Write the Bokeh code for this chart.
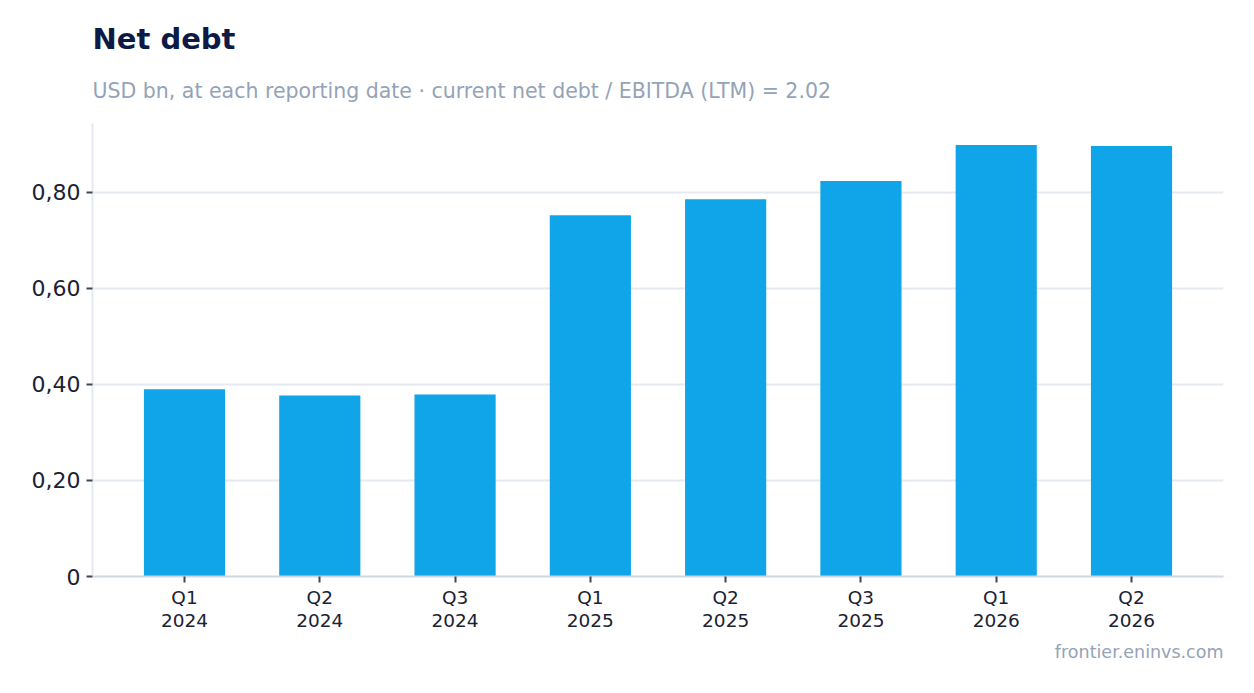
from bokeh.plotting import figure
from bokeh.models import Range1d, FixedTicker, Title, ColumnDataSource
from bokeh.embed import file_html
from bokeh.resources import INLINE

quarters = ["Q1\n2024", "Q2\n2024", "Q3\n2024", "Q1\n2025", "Q2\n2025", "Q3\n2025", "Q1\n2026", "Q2\n2026"]
net_debt = [0.390, 0.377, 0.379, 0.752, 0.785, 0.823, 0.898, 0.896]
y_ticks = [0, 0.2, 0.4, 0.6, 0.8]
y_tick_labels = ["0", "0,20", "0,40", "0,60", "0,80"]

FONT = "DejaVu Sans"
xs = list(range(len(quarters)))
src = ColumnDataSource(dict(x=xs, y=net_debt))

p = figure(width=1246, height=685, output_backend="svg", toolbar_location=None,
           x_range=Range1d(-0.68, len(quarters) - 1 + 0.68),
           y_range=Range1d(0, max(net_debt) * 1.05),
           min_border_left=92, min_border_right=23, min_border_top=123, min_border_bottom=109)
p.outline_line_color = None
p.background_fill_color = "white"
p.border_fill_color = "white"

p.vbar(x="x", top="y", width=0.6, source=src, color="#10a5e8", line_color=None)

p.xgrid.grid_line_color = None
p.ygrid.grid_line_color = "#e5e9f0"
p.ygrid.grid_line_width = 2

p.xaxis.ticker = FixedTicker(ticks=xs)
p.xaxis.major_label_overrides = {i: q for i, q in zip(xs, quarters)}
p.yaxis.ticker = FixedTicker(ticks=y_ticks)
p.yaxis.major_label_overrides = {t: l for t, l in zip(y_ticks, y_tick_labels)}

for ax in (p.xaxis[0], p.yaxis[0]):
    ax.major_label_text_font = FONT
    ax.major_label_text_color = "#1a2233"
    ax.major_tick_line_color = "#3f4654"
    ax.major_tick_line_width = 2
    ax.major_tick_out = 6
    ax.major_tick_in = 0
    ax.minor_tick_line_color = None
p.xaxis.major_label_text_font_size = "18.5px"
p.xaxis.major_label_text_line_height = 1.1
p.yaxis.major_label_text_font_size = "22px"
p.xaxis.axis_line_color = "#cfd8e3"
p.xaxis.axis_line_width = 2
p.yaxis.axis_line_color = "#e5e9f0"
p.yaxis.axis_line_width = 2
p.xaxis.major_label_standoff = 4
p.yaxis.major_label_standoff = 6

subtitle = Title(text="USD bn, at each reporting date · current net debt / EBITDA (LTM) = 2.02",
                 text_font=FONT, text_font_size="20.5px", text_font_style="normal",
                 text_color="#94a3b8", standoff=42, offset=0, text_line_height=0.75)
title = Title(text="Net debt", text_font=FONT, text_font_size="29px", text_font_style="bold",
              text_color="#0c1a45", standoff=0, offset=0, text_line_height=1.2)
p.add_layout(subtitle, "above")
p.add_layout(title, "above")

footer = Title(text="frontier.eninvs.com", text_font=FONT, text_font_size="17.5px",
               text_font_style="normal", text_color="#94a3b8", align="right", standoff=12)
p.add_layout(footer, "below")

open("out.html", "w").write(file_html(p, INLINE))
